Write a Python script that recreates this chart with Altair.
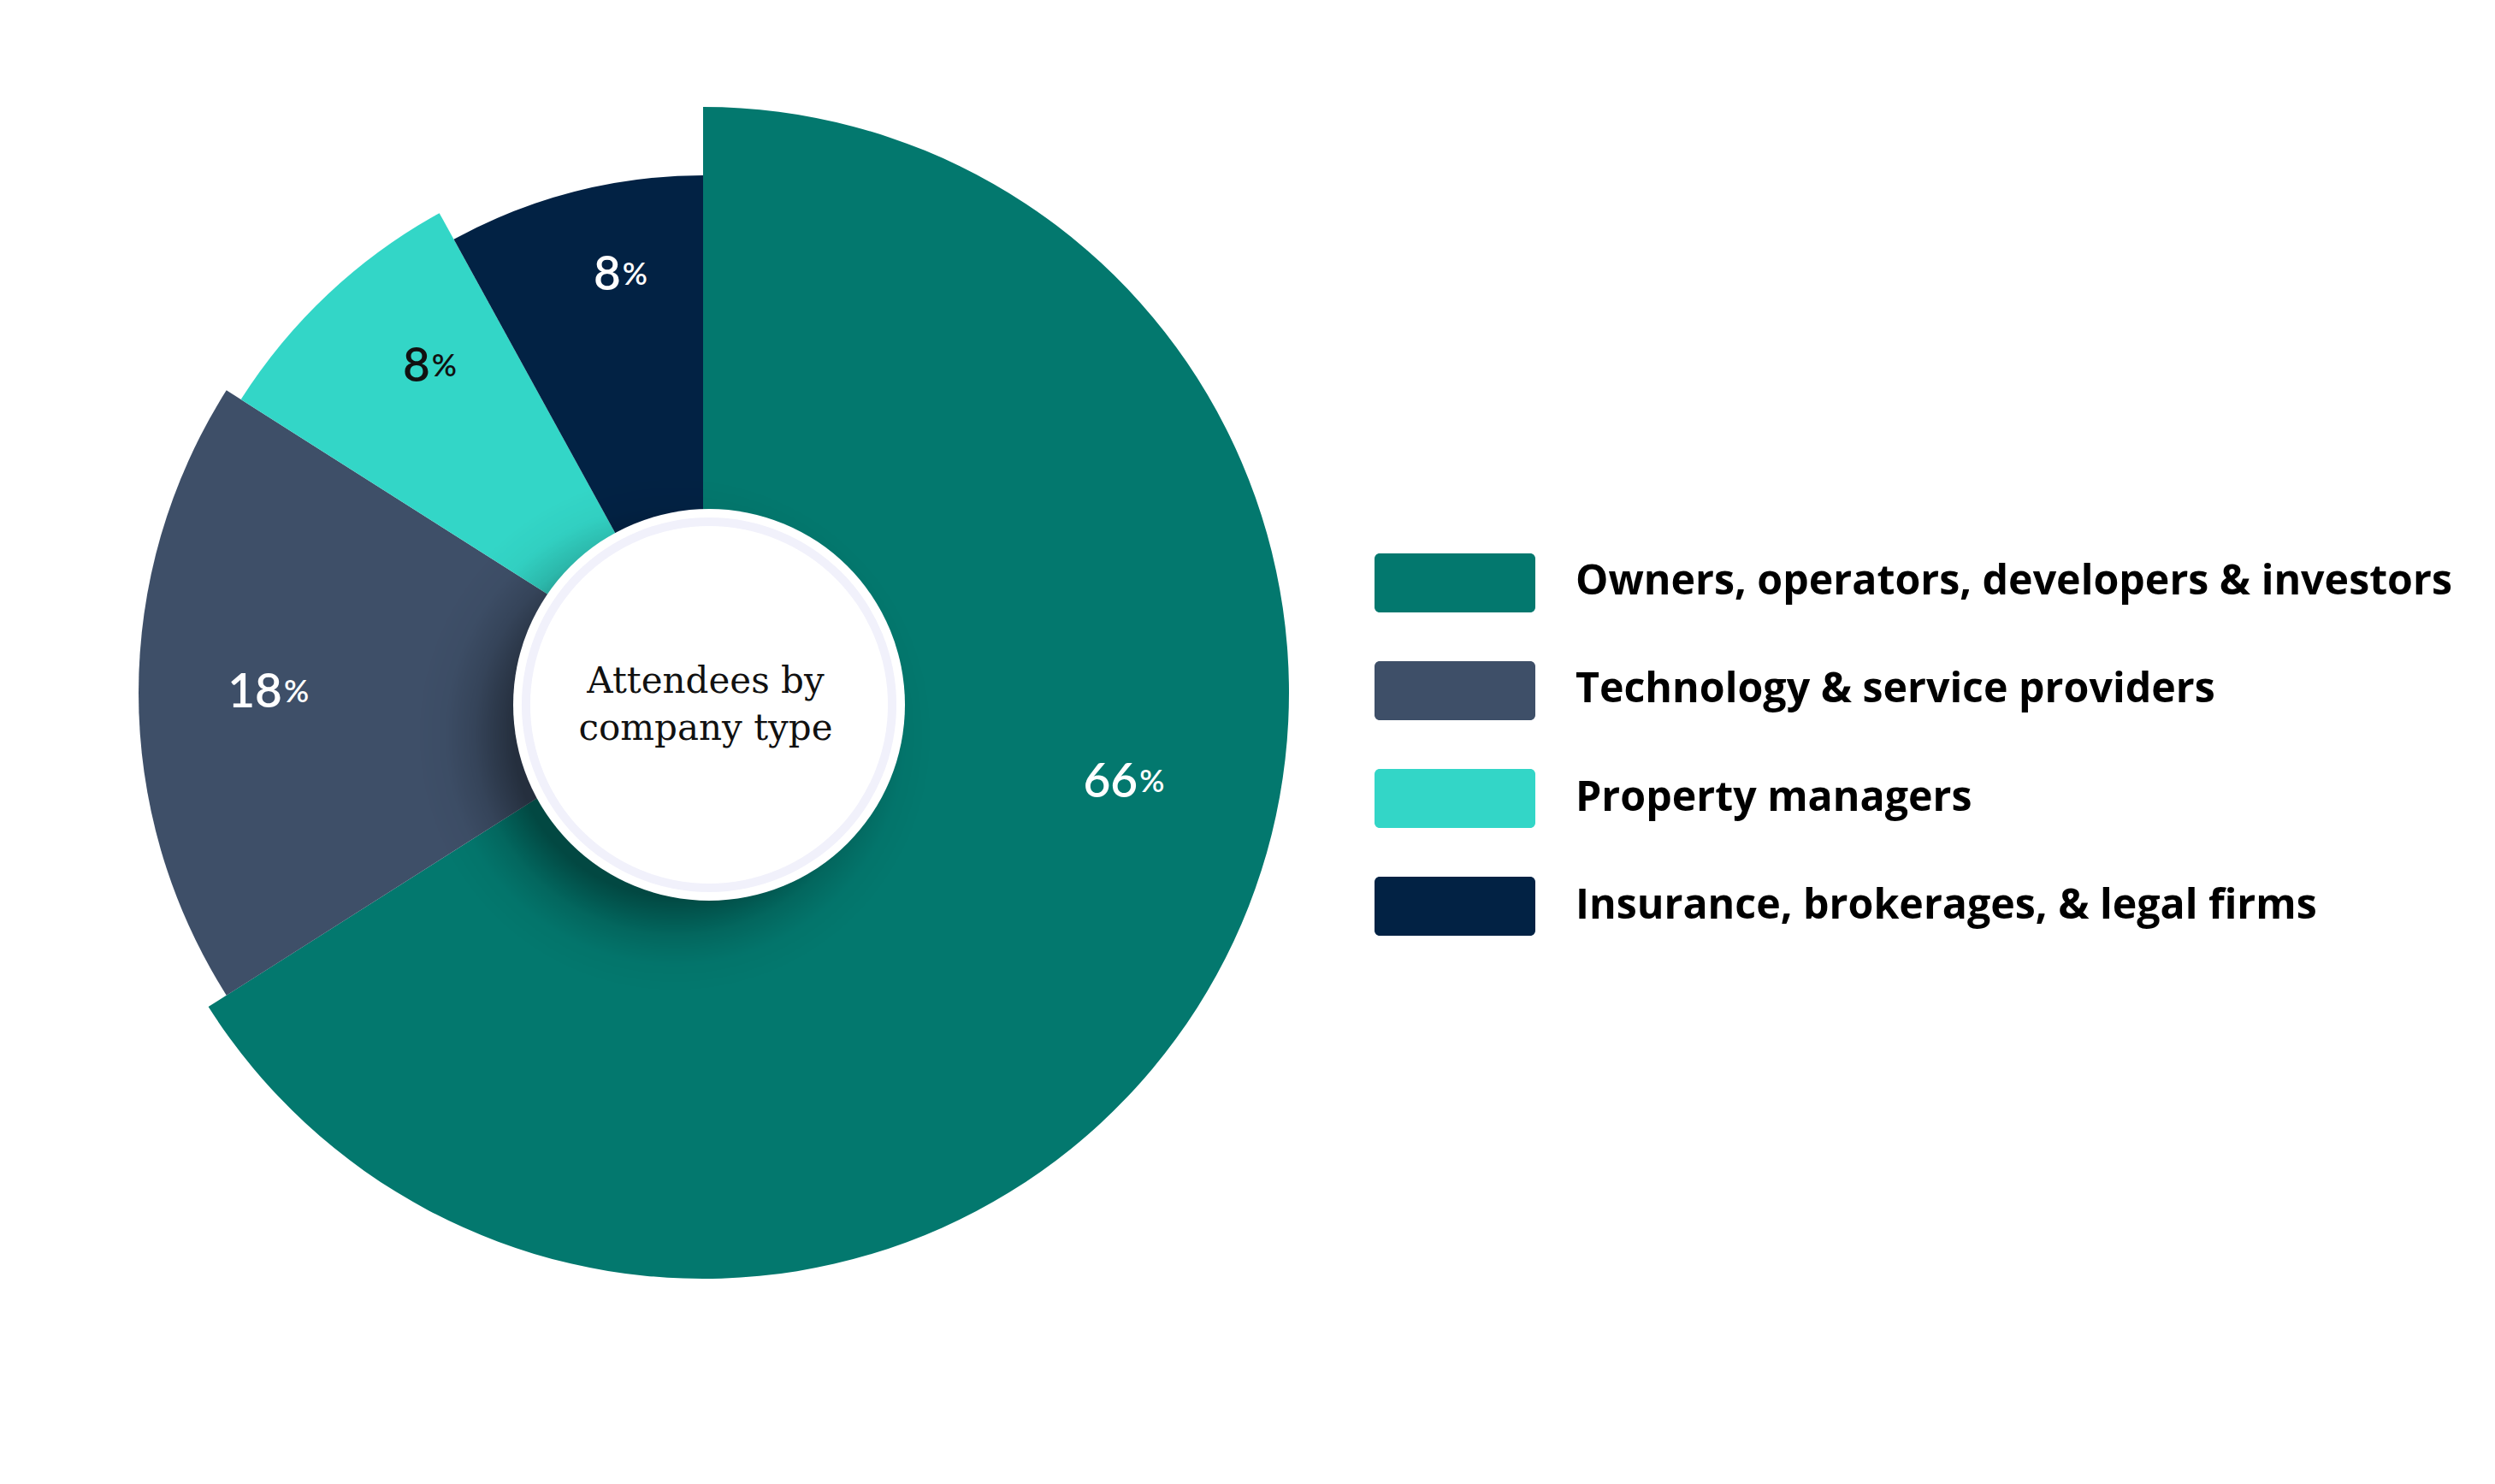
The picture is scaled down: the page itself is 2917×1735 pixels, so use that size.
import math
import altair as alt
import pandas as pd

# ---- data ----
categories = [
    "Owners, operators, developers & investors",
    "Technology & service providers",
    "Property managers",
    "Insurance, brokerages, & legal firms",
]
shares = [66, 18, 8, 8]
colors = ["#03786e", "#3e4f68", "#33d6c7", "#022244"]
center_title = "Attendees by\ncompany type"

df = pd.DataFrame({"category": categories, "share": shares, "idx": list(range(len(categories)))})
title_df = pd.DataFrame({"title": [center_title]})

# ---- layout / style ----
W, H = 2901, 1719
CX, CY = 814, 802             # pie centre (chart coords)
CCX, CCY = 821, 816           # centre circle
slice_radii = [685, 660, 640, 605]

color_scale = alt.Scale(domain=categories, range=colors)
theta_scale = alt.Scale(domain=[0, 100], range=[0, 2 * math.pi])

base = (
    alt.Chart(df)
    .transform_window(cum="sum(share)", sort=[alt.SortField("idx", order="ascending")], frame=[None, 0])
    .transform_calculate(start="datum.cum - datum.share", mid="datum.cum - datum.share / 2")
)

layers = []
for cat, R in zip(categories, slice_radii):
    layers.append(
        base.transform_filter(alt.FieldEqualPredicate(field="category", equal=cat))
        .mark_arc(radius=R)
        .encode(
            x=alt.value(CX), y=alt.value(CY),
            theta=alt.Theta("start:Q", scale=theta_scale),
            theta2="cum:Q",
            color=alt.Color("category:N", scale=color_scale, legend=None),
        )
    )

# shadow under the centre circle
shadow_fill = alt.RadialGradient(
    gradient="radial",
    stops=[
        alt.GradientStop(color="rgba(0,0,0,0.45)", offset=0),
        alt.GradientStop(color="rgba(0,0,0,0.40)", offset=0.62),
        alt.GradientStop(color="rgba(0,0,0,0.14)", offset=0.77),
        alt.GradientStop(color="rgba(0,0,0,0.03)", offset=0.88),
        alt.GradientStop(color="rgba(0,0,0,0)", offset=1),
    ],
    x1=0.5, y1=0.5, r1=0, x2=0.5, y2=0.5, r2=0.5,
)
circle_enc = dict(theta=alt.value(0), theta2=alt.value(2 * math.pi))
layers.append(
    alt.Chart(title_df).mark_arc(radius=305, fill=shadow_fill)
    .encode(x=alt.value(CCX - 40), y=alt.value(CCY + 35), **circle_enc)
)
layers.append(
    alt.Chart(title_df).mark_arc(radius=229, fill="white")
    .encode(x=alt.value(CCX), y=alt.value(CCY), **circle_enc)
)
layers.append(
    alt.Chart(title_df).mark_arc(radius=219, radius2=209, fill="#f1f1fb")
    .encode(x=alt.value(CCX), y=alt.value(CCY), **circle_enc)
)
layers.append(
    alt.Chart(title_df).mark_text(
        font="DejaVu Serif", fontSize=42, lineBreak="\n", lineHeight=55,
        align="center", baseline="alphabetic", color="#111111",
    ).encode(x=alt.value(817), y=alt.value(802), text="title:N")
)

# percentage labels
label_color = (
    alt.when(alt.FieldEqualPredicate(field="category", equal=categories[2]))
    .then(alt.value("#111111"))
    .otherwise(alt.value("white"))
)


def label_layers(cats, r, shift):
    sel = base.transform_filter(alt.FieldOneOfPredicate(field="category", oneOf=cats)).transform_calculate(
        lab=f"datum.mid + ({shift})"
    )
    enc = dict(
        x=alt.value(CX), y=alt.value(CY),
        theta=alt.Theta("lab:Q", scale=theta_scale),
        color=label_color,
    )
    num = sel.mark_text(
        align="right", baseline="middle", font="Lato", fontWeight=600, fontSize=55, radius=r
    ).encode(text=alt.Text("share:Q", format="d"), **enc)
    pct = sel.mark_text(
        align="left", baseline="middle", font="Lato", fontWeight=600, fontSize=36, dx=2, radius=r, text="%"
    ).encode(**enc)
    return [num, pct]


layers += label_layers([categories[0]], 519, -4.75)
layers += label_layers([categories[1]], 492, 0)
layers += label_layers([categories[2], categories[3]], 497, 0.9)

# legend drawn as marks
legend_y = alt.Y(
    "category:N", sort=categories, axis=None,
    scale=alt.Scale(type="band", domain=categories, range=[639, 1086], paddingInner=0.4524, paddingOuter=0),
)
layers.append(
    alt.Chart(df).mark_rect(cornerRadius=6).encode(
        x=alt.value(1599), x2=alt.value(1787), y=legend_y,
        color=alt.Color("category:N", scale=color_scale, legend=None),
    )
)
layers.append(
    alt.Chart(df).mark_text(
        align="left", baseline="middle", font="Open Sans", fontWeight="bold", fontSize=48.3, color="#000000"
    ).encode(x=alt.value(1834), y=legend_y, text="category:N")
)

chart = (
    alt.layer(*layers)
    .properties(width=W, height=H, autosize="none", padding=0, background="white")
    .configure_view(stroke=None)
)

chart.save("out.html", embed_options={"renderer": "svg", "actions": False})
